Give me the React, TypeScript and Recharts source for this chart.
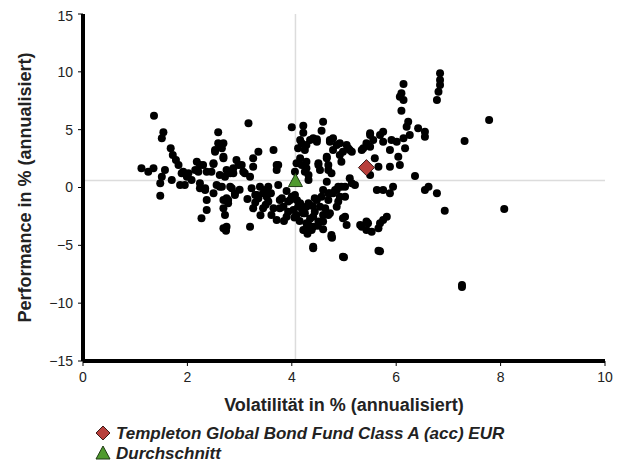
import { ScatterChart, Scatter, XAxis, YAxis, ReferenceLine } from "recharts";

// peer funds, [volatility %, performance %]
const PEERS_LOW: [number, number][] = [
  [1.36, 6.2], [1.54, 4.77], [1.51, 4.25], [1.68, 3.39], [1.72, 2.8], [1.78, 2.38], [1.83, 1.94],
  [1.12, 1.66], [1.25, 1.37], [1.35, 1.66], [1.57, 1.51], [1.51, 0.93], [1.48, 0.36], [1.48, -0.71],
  [1.7, 0.65], [1.89, 1.23], [1.99, 1.08], [2.18, 2.23], [2.24, 1.94], [2.21, 1.37], [2.08, 0.65],
  [1.95, 0.22], [2.24, -0.07], [2.34, -0.07], [2.37, -1.08], [2.37, -1.94], [2.27, -2.66], [1.92, 1.37],
  [2.02, 1.23], [2.15, 1.51], [2.37, 1.37], [2.24, 0.36], [2.34, -0.22], [2.5, -0.5], [2.3, 1.94],
  [2.5, 2.03], [1.86, 0.22], [1.99, 0.93], [2.53, 3.09],
];
const PEERS_MID: [number, number][] = [
  [2.59, 4.77], [2.59, 3.82], [2.53, 3.24], [2.5, 2.09], [2.69, 2.52], [2.46, 1.37], [2.62, 1.08],
  [2.56, 0.22], [2.69, -1.08], [2.69, -1.8], [2.72, -2.38], [2.75, -3.39], [3.17, 5.55], [2.69, 3.82],
  [2.66, 3.39], [3.36, 3.09], [3.65, 3.24], [3.26, 2.52], [2.94, 2.38], [2.98, 1.94], [3.26, 1.8],
  [3.71, 1.94], [3.71, 1.51], [2.75, 1.51], [2.88, 1.23], [3.07, 1.37], [2.72, 0.93], [2.66, 0.07],
  [2.85, -0.07], [3.23, -0.07], [3.39, 0.07], [3.55, 0.07], [3.74, 0.22], [3.45, -0.5], [3.3, -0.65],
  [3.36, -0.93], [3.52, -0.79], [2.75, -0.93], [2.91, -0.65], [2.78, -1.37], [3.77, -1.08], [3.97, -1.08],
  [3.84, -1.66], [3.26, -1.8], [3.45, -1.8], [3.61, -2.38], [3.71, -2.81], [3.9, -2.52], [3.2, -3.39],
  [2.69, -3.53], [2.74, -3.73], [2.69, 2.66], [3.04, 1.94], [2.82, 1.23], [3.1, 1.23], [3.2, 0.93],
  [2.62, 0.07], [2.82, 0.07], [2.91, -0.5], [2.78, -1.08], [3.49, -0.22], [3.33, -0.65], [3.55, -1.22],
  [3.65, -1.8], [3.74, 1.94], [3.81, -0.93], [3.93, -1.22], [3.77, -1.8], [3.93, -2.09], [2.88, 1.66],
  [3.3, -1.3], [3.5, -1.5], [3.6, -0.5], [3.9, -0.3], [3.85, -2.9], [3.4, -2.4], [3.15, -1.0],
  [3.0, -0.2],
];
const PEERS_HIGH: [number, number][] = [
  [4.0, 5.2], [4.22, 5.34], [4.6, 5.69], [4.22, 4.74], [4.57, 4.91], [4.48, 4.17], [4.35, 4.11],
  [4.19, 3.82], [4.73, 3.96], [4.12, 3.39], [4.25, 3.24], [4.79, 3.24], [4.09, 2.09], [4.06, 1.37],
  [4.28, 2.23], [4.28, 1.66], [4.51, 2.09], [4.67, 2.52], [4.7, 1.51], [4.54, 1.51], [4.03, -1.94],
  [4.16, -1.37], [4.28, -1.66], [4.48, -1.08], [4.54, -1.66], [4.7, -1.08], [4.73, -0.5], [4.6, -0.22],
  [4.86, -0.22], [4.32, 0.65], [4.67, 0.5], [4.09, -2.38], [4.22, -2.23], [4.41, -2.52], [4.6, -2.38],
  [4.73, -2.23], [4.28, -3.09], [4.41, -3.39], [4.22, -3.67], [4.6, -2.95], [4.76, -4.25], [4.41, -5.12],
  [4.73, 4.11], [4.86, 3.67], [4.98, 3.09], [4.92, 2.81], [4.76, 1.23], [4.89, 0.07], [4.79, -0.5],
  [4.89, -1.22], [4.98, -2.66], [4.98, -5.98], [4.77, -4.34], [4.41, 4.25], [4.48, 3.96], [4.16, 4.11],
  [4.28, 3.67], [4.79, 4.25], [4.92, 3.82], [4.16, 2.52], [4.19, 1.94], [4.25, 1.37], [4.32, 1.08],
  [4.51, 1.94], [4.7, 1.94], [4.67, 2.66], [4.95, 2.23], [4.95, 0.07], [4.83, -0.22], [4.7, -0.5],
  [4.57, -0.79], [4.44, -0.93], [4.32, -1.37], [4.06, -0.65], [4.12, -1.66], [4.25, -2.23], [4.44, -2.09],
  [4.64, -1.8], [4.7, -2.38], [4.51, -2.95], [4.32, -3.24], [4.25, -3.67], [4.38, -3.67], [4.86, -1.66],
  [4.92, -0.79], [4.76, -4.11], [4.41, -5.26], [4.0, -0.8], [4.1, -1.1], [4.2, -1.9], [4.35, -2.7],
  [4.5, -3.3], [4.15, -2.9], [4.4, -1.6], [4.6, -3.6], [4.3, -4.0], [4.05, -2.6],
];
const PEERS_TOP: [number, number][] = [
  [5.05, 3.67], [5.11, 3.24], [5.11, 0.8], [5.15, 0.36], [5.02, 0.07], [5.02, -0.79], [5.05, -3.24],
  [5.08, 3.39], [5.37, 3.39], [5.5, 4.54], [5.15, 3.09], [5.21, 0.22], [5.02, -2.52], [5.31, -3.24],
  [5.43, -3.67], [5.43, -2.95], [5.0, -6.03], [5.69, -5.52], [6.84, 9.87], [6.84, 9.29], [6.84, 8.86],
  [6.81, 8.28], [6.78, 7.56], [6.14, 8.95], [6.1, 8.14], [6.07, 7.85], [6.14, 7.56], [6.1, 6.64],
  [6.23, 5.69], [6.2, 5.26], [6.42, 5.12], [6.55, 4.82], [6.55, 4.39], [6.26, 4.54], [6.14, 4.25],
  [6.01, 3.96], [5.91, 4.11], [5.75, 4.82], [5.69, 4.54], [5.5, 4.68], [5.75, 3.96], [5.56, 4.11],
  [5.43, 3.82], [5.34, 3.24], [5.5, 3.53], [5.88, 3.24], [6.17, 3.39], [6.04, 2.66], [5.59, 2.52],
  [5.66, 1.8], [5.88, 1.8], [6.07, 1.94], [5.5, 1.08], [6.36, 0.99], [5.63, -0.22], [5.75, -0.22],
  [5.94, 0.07], [5.88, -0.5], [6.55, -0.22], [6.62, 0.07], [6.78, -0.5], [6.93, -2.0], [5.34, -3.39],
  [5.46, -3.09], [5.53, -3.82], [5.69, -3.09], [5.75, -2.81], [5.82, -2.52], [5.66, -3.53], [5.66, -5.46],
  [7.78, 5.83], [7.31, 4.02], [8.07, -1.86], [7.26, -8.43], [7.26, -8.6],
];

const FUND_NAME = "Templeton Global Bond Fund Class A (acc) EUR";
const FUND_POINT: [number, number] = [5.43, 1.72];
const AVG_NAME = "Durchschnitt";
const AVG_POINT: [number, number] = [4.07, 0.6];

const X_TICKS = [0, 2, 4, 6, 8, 10];
const Y_TICKS = [-15, -10, -5, 0, 5, 10, 15];

const FONT = "'Liberation Sans', Arial, sans-serif";
const DIAMOND_COLOR = "#b8403c";
const TRIANGLE_COLOR = "#4f9a2e";

const toRows = (pts: [number, number][]) => pts.map(([x, y]) => ({ x, y }));
const peerData = toRows([...PEERS_LOW, ...PEERS_MID, ...PEERS_HIGH, ...PEERS_TOP]);
const fmt = (v: number) => (v < 0 ? "\u2212" + Math.abs(v) : String(v));

const Dot = (p: any) => <circle cx={p.cx} cy={p.cy} r={4} fill="#000" />;
const Diamond = (p: any) => (
  <polygon
    points={`${p.cx},${p.cy - 8} ${p.cx + 8},${p.cy} ${p.cx},${p.cy + 8} ${p.cx - 8},${p.cy}`}
    fill={DIAMOND_COLOR}
    stroke="#3a1a18"
    strokeWidth={1}
  />
);
const Triangle = (p: any) => (
  <polygon
    points={`${p.cx},${p.cy - 7} ${p.cx + 7},${p.cy + 6} ${p.cx - 7},${p.cy + 6}`}
    fill={TRIANGLE_COLOR}
    stroke="#1f3a14"
    strokeWidth={1}
  />
);

function LegendIcon({ kind }: { kind: "diamond" | "triangle" }) {
  return (
    <svg width={16} height={16} style={{ verticalAlign: "-2px", marginRight: 5 }}>
      {kind === "diamond" ? (
        <polygon points="8,1 15,8 8,15 1,8" fill={DIAMOND_COLOR} stroke="#3a1a18" />
      ) : (
        <polygon points="8,1 15,14 1,14" fill={TRIANGLE_COLOR} stroke="#1f3a14" />
      )}
    </svg>
  );
}

export default function App() {
  const tick = { fontSize: 14, fill: "#222", fontFamily: FONT };
  const title = { fontSize: 18, fontWeight: "bold", fill: "#222", fontFamily: FONT };
  return (
    <div style={{ position: "relative", width: 617, height: 456, fontFamily: FONT }}>
      <ScatterChart width={617} height={420} margin={{ top: 6, right: 20, bottom: 0, left: 0 }}>
        <XAxis
          type="number"
          dataKey="x"
          domain={[0, 10]}
          ticks={X_TICKS}
          tickFormatter={fmt}
          tick={tick}
          axisLine={false}
          tickLine={{ stroke: "#000" }}
          tickSize={5}
          tickMargin={6}
          height={67}
          label={{ value: "Volatilität in % (annualisiert)", position: "insideBottom", offset: 17, style: title }}
        />
        <YAxis
          type="number"
          dataKey="y"
          domain={[-15, 15]}
          ticks={Y_TICKS}
          tickFormatter={fmt}
          tick={tick}
          axisLine={false}
          tickLine={{ stroke: "#000" }}
          tickSize={5}
          tickMargin={5}
          width={75}
          label={{
            value: "Performance in % (annualisiert)",
            angle: -90,
            position: "insideLeft",
            offset: 17,
            style: { ...title, textAnchor: "middle" },
          }}
        />
        <Scatter data={peerData} shape={Dot} isAnimationActive={false} />
        <ReferenceLine x={AVG_POINT[0]} stroke="#dcdcdc" strokeWidth={1.5} />
        <ReferenceLine y={AVG_POINT[1]} stroke="#dcdcdc" strokeWidth={1.5} />
        <ReferenceLine x={0} stroke="#000" strokeWidth={4} />
        <ReferenceLine y={-15} stroke="#000" strokeWidth={4} />
        <Scatter data={toRows([AVG_POINT])} shape={Triangle} isAnimationActive={false} />
        <Scatter data={toRows([FUND_POINT])} shape={Diamond} isAnimationActive={false} />
      </ScatterChart>
      <div
        style={{
          position: "absolute",
          left: 87,
          top: 416,
          fontSize: 17,
          fontWeight: "bold",
          fontStyle: "italic",
          color: "#222",
          lineHeight: "20px",
          whiteSpace: "nowrap",
        }}
      >
        <div><LegendIcon kind="diamond" />{FUND_NAME}</div>
        <div><LegendIcon kind="triangle" />{AVG_NAME}</div>
      </div>
    </div>
  );
}
